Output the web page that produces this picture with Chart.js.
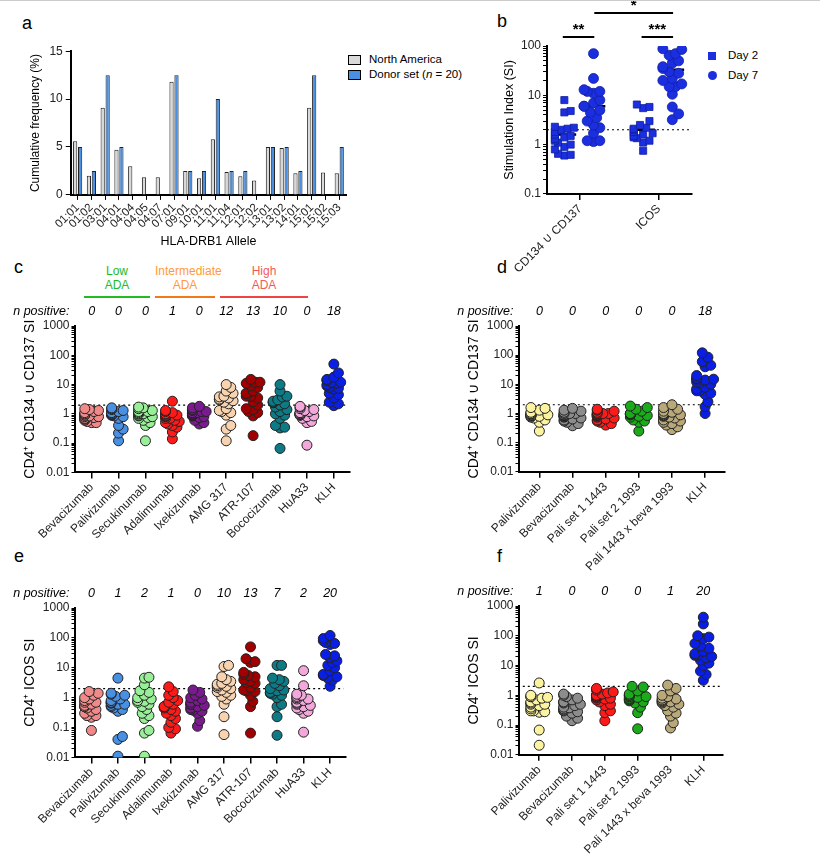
<!DOCTYPE html>
<html>
<head>
<meta charset="utf-8">
<script src="https://cdn.jsdelivr.net/npm/chart.js@4/dist/chart.umd.min.js"></script>
<style>
  body { margin: 0; background: #fff; font-family: "Liberation Sans", Arial, sans-serif; }
  #page { position: relative; width: 820px; height: 856px; border-top: 1px solid #ccc; box-sizing: border-box; }
  .box { position: absolute; }
  .lbl { position: absolute; font-size: 18px; color: #000; }
  .ada { position: absolute; text-align: center; font-size: 12px; line-height: 14px; }
  .ada div { margin-top: 4px; height: 2px; }
  .leg { position: absolute; font-size: 11.5px; line-height: 15px; }
  .sw { display: inline-block; width: 11px; height: 8px; border: 1px solid #000; margin-right: 8px; vertical-align: middle; }
</style>
</head>
<body>
<div id="page">
  <div class="lbl" style="left:22px;top:12px">a</div>
  <div class="lbl" style="left:497px;top:10px">b</div>
  <div class="lbl" style="left:14px;top:256px">c</div>
  <div class="lbl" style="left:497px;top:256px">d</div>
  <div class="lbl" style="left:14px;top:545px">e</div>
  <div class="lbl" style="left:497px;top:545px">f</div>

  <div class="leg" style="left:348px;top:51px">
    <div><span class="sw" style="background:#d9d9d9"></span>North America</div>
    <div><span class="sw" style="background:#4a90e2"></span>Donor set (<i>n</i> = 20)</div>
  </div>
  <div class="leg" style="left:708px;top:44px;line-height:20px">
    <div><span style="display:inline-block;width:8px;height:8px;background:#1b2fe0;margin-right:12px;vertical-align:middle"></span>Day 2</div>
    <div><span style="display:inline-block;width:9px;height:9px;border-radius:50%;background:#1b2fe0;margin-right:11px;vertical-align:middle"></span>Day 7</div>
  </div>

  <div class="ada" style="left:84px;top:263px;width:66px;color:#22bb22">Low<br>ADA<div style="background:#22bb22"></div></div>
  <div class="ada" style="left:155px;top:263px;width:60px;color:#ff9a3a">Intermediate<br>ADA<div style="background:#f07a1a"></div></div>
  <div class="ada" style="left:220px;top:263px;width:88px;color:#f25a5a">High<br>ADA<div style="background:#ef4444"></div></div>

  <div class="box" style="left:24px;top:40px;width:326px;height:210px"><canvas id="chartA"></canvas></div>
  <div class="box" style="left:500px;top:0px;width:200px;height:277px"><canvas id="chartB"></canvas></div>
  <div class="box" style="left:0px;top:295px;width:356px;height:248px"><canvas id="chartC"></canvas></div>
  <div class="box" style="left:450px;top:295px;width:281px;height:280px"><canvas id="chartD"></canvas></div>
  <div class="box" style="left:0px;top:580px;width:352px;height:248px"><canvas id="chartE"></canvas></div>
  <div class="box" style="left:450px;top:580px;width:279px;height:278px"><canvas id="chartF"></canvas></div>
</div>
<script>
// ---- panel a ----
const alleles = ['01:01','01:02','03:01','04:01','04:04','04:05','04:07','07:01','09:01','10:01','11:01','11:04','12:01','12:02','13:01','13:02','14:01','15:01','15:02','15:03'];
const northAmerica = [5.6,2,9.1,4.7,3,1.85,1.85,11.8,2.5,1.75,5.8,2.4,1.95,1.5,5,4.9,2.25,9.1,2.35,2.25];
const donorSet = [5,2.5,12.5,5,0,0,0,12.5,2.5,2.5,10,2.5,2.5,0,5,5,2.5,12.5,0,5];

// ---- panel b ----
const bCategories = ['CD134 \u222a CD137', 'ICOS'];
const bCd134Day2 = [8,4.5,4.8,2.3,2.2,2.0,2.1,1.8,1.6,1.5,1.3,1.2,1.1,1.0,0.9,0.8,0.65,0.6,0.62,1.4];
const bCd134Day7 = [70,22,13,12,11,12,8,7,6,5,4.5,3.5,3,2.5,2.2,1.7,1.2,1.2,1.15,6];
const bIcosDay2 = [6.5,5.5,5.8,3,2.5,2.2,2,1.8,1.7,1.6,1.5,1.4,1.35,1.2,1.1,0.75,2.1];
const bIcosDay7 = [85,88,65,70,50,38,35,30,28,22,20,17,15,15,10.5,5.8,4.2,3.2,45];
const bMedians = [1.6, 6, 2, 33];

// ---- panels c, e ----
const antibodies = ['Bevacizumab','Palivizumab','Secukinumab','Adalimumab','Ixekizumab','AMG 317','ATR-107','Bococizumab','HuA33','KLH'];
const antibodyColors = ['#f08a8a','#4a90e2','#98ef98','#ff1a1a','#7a1a8f','#f7d3b0','#a00000','#0d7a85','#f3a8dc','#0a1fe6'];
const cPositive = [0,0,0,1,0,12,13,10,0,18];
const cValues = [
  [1.5,1.4,1.3,1.2,1.1,1.0,1.0,0.9,0.9,0.85,0.8,0.8,0.75,0.7,0.7,0.65,0.6,0.55,0.5,0.5],
  [1.6,1.5,1.4,1.3,1.2,1.1,1.0,1.0,0.95,0.9,0.9,0.85,0.8,0.7,0.4,0.3,0.22,0.12,1.0,1.1],
  [1.7,1.6,1.5,1.3,1.2,1.1,1.0,1.0,0.9,0.85,0.8,0.75,0.7,0.6,0.5,0.4,0.12,1.0,0.9,1.2],
  [2.7,1.3,1.2,1.0,1.0,0.9,0.85,0.8,0.7,0.6,0.5,0.45,0.4,0.35,0.24,0.14,0.9,1.1,0.55,0.7],
  [1.8,1.6,1.4,1.3,1.2,1.1,1.0,1.0,0.95,0.9,0.85,0.8,0.75,0.6,0.5,0.45,1.0,1.1,0.9,1.2],
  [10,8,6,5,4,3.8,3.5,3.2,3,2.8,2.5,2.2,1.5,1.3,1.2,1.1,0.9,0.4,0.3,0.12],
  [15,12,12,11,9,8,6,5,5,4,4,3.5,2.6,2.0,1.5,1.4,1.2,1.1,0.85,0.18],
  [10,6,4,3.8,3,2.7,2.5,2.4,2,1.7,1.4,1.2,1.0,0.9,0.7,0.4,0.35,0.33,0.066,2.2],
  [1.8,1.7,1.5,1.4,1.3,1.2,1.1,1.0,1.0,0.95,0.9,0.85,0.8,0.7,0.55,0.5,0.085,1.0,0.9,1.1],
  [50,25,18,15,14,14,12,11,10,9,8,7.5,7,5,4.5,3.5,2.5,2.2,1.9,12]
];
const ePositive = [0,1,2,1,0,10,13,7,2,20];
const eValues = [
  [1.6,1.4,1.2,1.0,0.9,0.8,0.7,0.7,0.6,0.55,0.5,0.45,0.4,0.35,0.3,0.25,0.25,0.22,0.08,0.5],
  [4.5,1.4,1.3,1.2,1.1,0.9,0.8,0.7,0.65,0.6,0.55,0.5,0.45,0.4,0.35,0.05,0.04,0.011,0.6,0.7],
  [4.8,4.5,2.7,1.7,1.5,1.2,1.0,0.9,0.75,0.7,0.6,0.5,0.4,0.3,0.25,0.2,0.08,0.065,0.011,0.8],
  [2.3,1.6,1.2,1.0,0.8,0.6,0.5,0.5,0.45,0.4,0.35,0.25,0.2,0.15,0.1,0.09,0.065,0.5,0.3,0.7],
  [1.8,1.5,1.2,1.0,0.9,0.8,0.7,0.6,0.55,0.5,0.45,0.4,0.38,0.35,0.3,0.17,0.11,0.6],
  [12,11,5,4,3.5,3,2.8,2.5,2.2,2,1.8,1.6,1.5,1.2,1.1,0.9,0.6,0.23,0.058,2.4],
  [50,20,16,15,7,6,5.5,5,4,3.5,3.2,3,2.2,1.8,1.7,1.6,1.2,0.75,0.5,0.065],
  [12,12,4.5,4,3.5,3,2,1.7,1.5,1.4,1.3,1.2,1.0,0.6,0.5,0.23,0.055,2.5,1.8],
  [8,2.5,1.3,1.2,1.1,1.0,0.9,0.8,0.7,0.65,0.6,0.55,0.5,0.45,0.4,0.35,0.3,0.07,0.9],
  [120,95,80,70,65,60,28,25,22,17,15,12,10,8,6,5.5,5,4.5,3.8,2.4]
];

// ---- panels d, f ----
const paliSets = ['Palivizumab','Bevacizumab','Pali set 1 1443','Pali set 2 1993','Pali 1443 x beva 1993','KLH'];
const paliColors = ['#fbf3a0','#8c8c8c','#ff1a1a','#1aaa1a','#b8a87a','#0a1fe6'];
const dPositive = [0,0,0,0,0,18];
const dValues = [
  [1.6,1.5,1.3,1.1,1.0,0.95,0.9,0.85,0.8,0.8,0.75,0.7,0.6,0.5,0.25,1.0,0.9,0.85],
  [1.5,1.3,1.2,1.1,1.0,1.0,0.9,0.85,0.8,0.8,0.75,0.7,0.65,0.6,0.55,0.5,0.45,0.38,0.9,1.0],
  [1.4,1.3,1.2,1.1,1.0,1.0,0.95,0.9,0.85,0.8,0.75,0.7,0.65,0.6,0.55,0.5,0.45,0.4,1.0,0.9],
  [1.8,1.6,1.4,1.2,1.0,1.0,0.95,0.9,0.85,0.8,0.75,0.6,0.55,0.5,0.25,0.9,1.0],
  [2,1.6,1.4,1.2,1.1,1.0,0.95,0.9,0.85,0.8,0.75,0.7,0.6,0.55,0.5,0.45,0.4,0.35,0.28,0.9],
  [120,85,60,45,40,20,16,15,15,14,12,11,10,8,7,6,6,5,4.5,2.5,1.7,1.0]
];
const fPositive = [1,0,0,0,1,20];
const fValues = [
  [2.6,1.0,0.9,0.85,0.8,0.7,0.6,0.55,0.5,0.45,0.4,0.35,0.3,0.3,0.28,0.27,0.068,0.021,0.9,0.5],
  [1.1,1.0,0.9,0.8,0.7,0.6,0.55,0.5,0.45,0.4,0.38,0.35,0.32,0.3,0.28,0.25,0.2,0.17,0.14,0.6],
  [1.7,1.5,1.3,1.2,1.1,1.0,1.0,0.9,0.85,0.8,0.75,0.7,0.6,0.5,0.45,0.3,0.26,0.14,1.0,0.8],
  [2,1.9,1.4,1.1,1.0,1.0,0.9,0.85,0.8,0.75,0.7,0.65,0.6,0.55,0.4,0.26,0.075,0.9],
  [2.2,1.7,1.4,1.0,0.9,0.8,0.75,0.7,0.65,0.6,0.55,0.5,0.45,0.4,0.3,0.25,0.2,0.12,0.08,0.6],
  [420,250,100,90,80,55,45,38,30,25,22,20,18,15,12,10,6.5,5,3.2,22]
];

const THRESHOLD = 2;
const FONT = '"Liberation Sans", Arial, sans-serif';
Chart.defaults.font.family = FONT;
Chart.defaults.color = '#222';
Chart.defaults.animation = false;

// simple beeswarm: spread points sideways when they would overlap in log space
function swarm(values, center, xStep, yGap, maxK) {
    const placed = [];
    const sorted = [...values].sort((a, b) => a - b);
    sorted.forEach(v => {
        const ly = Math.log10(v);
        const offsets = [0];
        for (let k = 1; k <= maxK; k++) offsets.push(k * xStep, -k * xStep);
        let chosen = offsets[offsets.length - 1];
        for (const off of offsets) {
            const clash = placed.some(p => {
                const dx = (p.off - off) / (xStep * 1.8);
                const dy = (p.ly - ly) / yGap;
                return dx * dx + dy * dy < 1;
            });
            if (!clash) { chosen = off; break; }
        }
        placed.push({ off: chosen, ly });
    });
    return placed.map(p => ({ x: center + p.off, y: Math.pow(10, p.ly) }));
}

function logTicks(min, max) {
    return {
        type: 'logarithmic', min, max,
        border: { display: true, color: '#000', width: 2 },
        grid: { drawOnChartArea: false, drawTicks: true, tickLength: 4, color: '#000' },
        ticks: {
            color: '#222', font: { size: 12 }, padding: 2, autoSkip: false,
            callback: v => {
                const l = Math.log10(v);
                return Math.abs(l - Math.round(l)) < 1e-9 ? String(v) : '';
            }
        },
        afterBuildTicks: axis => {
            const t = [];
            for (let e = Math.round(Math.log10(min)); e < Math.round(Math.log10(max)); e++) {
                for (let m = 1; m < 10; m++) t.push({ value: m * Math.pow(10, e) });
            }
            t.push({ value: max });
            axis.ticks = t;
        }
    };
}

function categoryAxis(names, min, max) {
    return {
        type: 'linear', min, max,
        border: { display: true, color: '#000', width: 2 },
        grid: { drawOnChartArea: false, drawTicks: true, tickLength: 6, color: '#000', lineWidth: 1.5 },
        ticks: {
            stepSize: 1, autoSkip: false, maxRotation: 45, minRotation: 45,
            color: '#222', font: { size: 12 }, padding: 2,
            callback: v => names[v] !== undefined && Number.isInteger(v) ? names[v] : ''
        },
        afterBuildTicks: axis => { axis.ticks = names.map((_, i) => ({ value: i })); }
    };
}

const nPositivePlugin = {
    id: 'nPositive',
    afterDraw(chart, args, opts) {
        if (!opts.counts) return;
        const { ctx, chartArea, scales } = chart;
        const y = chartArea.top - opts.gap;
        ctx.save();
        ctx.font = 'italic 12.5px ' + FONT;
        ctx.fillStyle = '#000';
        ctx.textBaseline = 'middle';
        ctx.textAlign = 'right';
        ctx.fillText('n positive:', chartArea.left - 6, y);
        ctx.textAlign = 'center';
        opts.counts.forEach((n, i) => ctx.fillText(String(n), scales.x.getPixelForValue(i), y));
        ctx.restore();
    }
};

function swarmChart(id, names, groups, colors, counts, yTitle, padTop, padLeft) {
    const datasets = groups.map((vals, i) => ({
        type: 'scatter',
        data: swarm(vals, i, 0.085, 0.2, 3),
        backgroundColor: colors[i],
        borderColor: '#222',
        borderWidth: 1,
        pointRadius: 5
    }));
    datasets.push({
        type: 'line',
        data: [{ x: -0.5, y: THRESHOLD }, { x: names.length - 0.5, y: THRESHOLD }],
        borderColor: '#000', borderWidth: 1.2, borderDash: [2, 3], pointRadius: 0
    });
    return new Chart(document.getElementById(id), {
        type: 'scatter',
        data: { datasets },
        plugins: [nPositivePlugin],
        options: {
            responsive: true,
            maintainAspectRatio: false,
            layout: { padding: { top: padTop, right: 4, left: padLeft } },
            plugins: { legend: { display: false }, tooltip: { enabled: false }, nPositive: { counts, gap: 14 } },
            scales: {
                x: categoryAxis(names, -0.6, names.length - 0.4),
                y: Object.assign(logTicks(0.01, 1000), {
                    title: { display: true, text: yTitle, font: { size: 14 }, color: '#000', padding: 2 }
                })
            }
        }
    });
}

// panel a
new Chart(document.getElementById('chartA'), {
    type: 'bar',
    data: {
        labels: alleles,
        datasets: [
            { label: 'North America', data: northAmerica, backgroundColor: '#d9d9d9', borderColor: '#222', borderWidth: 1 },
            { label: 'Donor set', data: donorSet, backgroundColor: '#4a90e2', borderColor: '#222', borderWidth: 1 }
        ]
    },
    options: {
        responsive: true,
        maintainAspectRatio: false,
        plugins: { legend: { display: false }, tooltip: { enabled: false } },
        datasets: { bar: { categoryPercentage: 0.72, barPercentage: 0.85 } },
        scales: {
            x: {
                border: { display: true, color: '#000', width: 2 },
                grid: { drawOnChartArea: false, drawTicks: true, tickLength: 5, color: '#000', offset: false },
                ticks: { maxRotation: 45, minRotation: 45, autoSkip: false, font: { size: 11.5 }, color: '#222', padding: 1 },
                title: { display: true, text: 'HLA-DRB1 Allele', font: { size: 12.5 }, color: '#000', padding: 2 }
            },
            y: {
                min: 0, max: 15,
                border: { display: true, color: '#000', width: 2 },
                grid: { drawOnChartArea: false, drawTicks: true, tickLength: 5, color: '#000' },
                ticks: { stepSize: 5, font: { size: 12 }, color: '#222' },
                title: { display: true, text: 'Cumulative frequency (%)', font: { size: 12 }, color: '#000' }
            }
        }
    }
});

// panel b
const sigPlugin = {
    id: 'sig',
    afterDraw(chart) {
        const { ctx, scales } = chart;
        const x = v => scales.x.getPixelForValue(v);
        const bars = [
            { a: -0.22, b: 0.18, y: 36, t: '**' },
            { a: 0.78, b: 1.18, y: 36, t: '***' },
            { a: 0.18, b: 1.18, y: 12, t: '*' }
        ];
        ctx.save();
        ctx.strokeStyle = '#000';
        ctx.lineWidth = 2;
        ctx.fillStyle = '#000';
        ctx.font = 'bold 15px ' + FONT;
        ctx.textAlign = 'center';
        bars.forEach(b => {
            ctx.beginPath();
            ctx.moveTo(x(b.a), b.y);
            ctx.lineTo(x(b.b), b.y);
            ctx.stroke();
            ctx.fillText(b.t, (x(b.a) + x(b.b)) / 2, b.y - 3);
        });
        ctx.restore();
    }
};
const bGroups = [bCd134Day2, bCd134Day7, bIcosDay2, bIcosDay7];
const bCenters = [-0.2, 0.17, 0.8, 1.17];
const bDatasets = bGroups.map((vals, i) => ({
    type: 'scatter',
    data: swarm(vals, bCenters[i], 0.04, 0.16, 3),
    backgroundColor: '#1b2fe0',
    borderColor: '#1020a0',
    borderWidth: 0.8,
    pointRadius: 5,
    pointStyle: i % 2 === 0 ? 'rect' : 'circle'
}));
bMedians.forEach((m, i) => bDatasets.push({
    type: 'line',
    data: [{ x: bCenters[i] - 0.15, y: m }, { x: bCenters[i] + 0.15, y: m }],
    borderColor: '#000', borderWidth: 2.5, pointRadius: 0
}));
bDatasets.push({
    type: 'line',
    data: [{ x: -0.42, y: THRESHOLD }, { x: 1.42, y: THRESHOLD }],
    borderColor: '#000', borderWidth: 1.2, borderDash: [2, 3], pointRadius: 0
});
new Chart(document.getElementById('chartB'), {
    type: 'scatter',
    data: { datasets: bDatasets },
    plugins: [sigPlugin],
    options: {
        responsive: true,
        maintainAspectRatio: false,
        layout: { padding: { top: 45, right: 8 } },
        plugins: { legend: { display: false }, tooltip: { enabled: false } },
        scales: {
            x: categoryAxis(bCategories, -0.42, 1.42),
            y: Object.assign(logTicks(0.1, 100), {
                title: { display: true, text: 'Stimulation Index (SI)', font: { size: 12.5 }, color: '#000', padding: 2 }
            })
        }
    }
});

swarmChart('chartC', antibodies, cValues, antibodyColors, cPositive, 'CD4\u207a CD134 \u222a CD137 SI', 30, 20);
swarmChart('chartD', paliSets, dValues, paliColors, dPositive, 'CD4\u207a CD134 \u222a CD137 SI', 30, 14);
swarmChart('chartE', antibodies, eValues, antibodyColors, ePositive, 'CD4\u207a ICOS SI', 27, 20);
swarmChart('chartF', paliSets, fValues, paliColors, fPositive, 'CD4\u207a ICOS SI', 25, 14);
</script>
</body>
</html>
